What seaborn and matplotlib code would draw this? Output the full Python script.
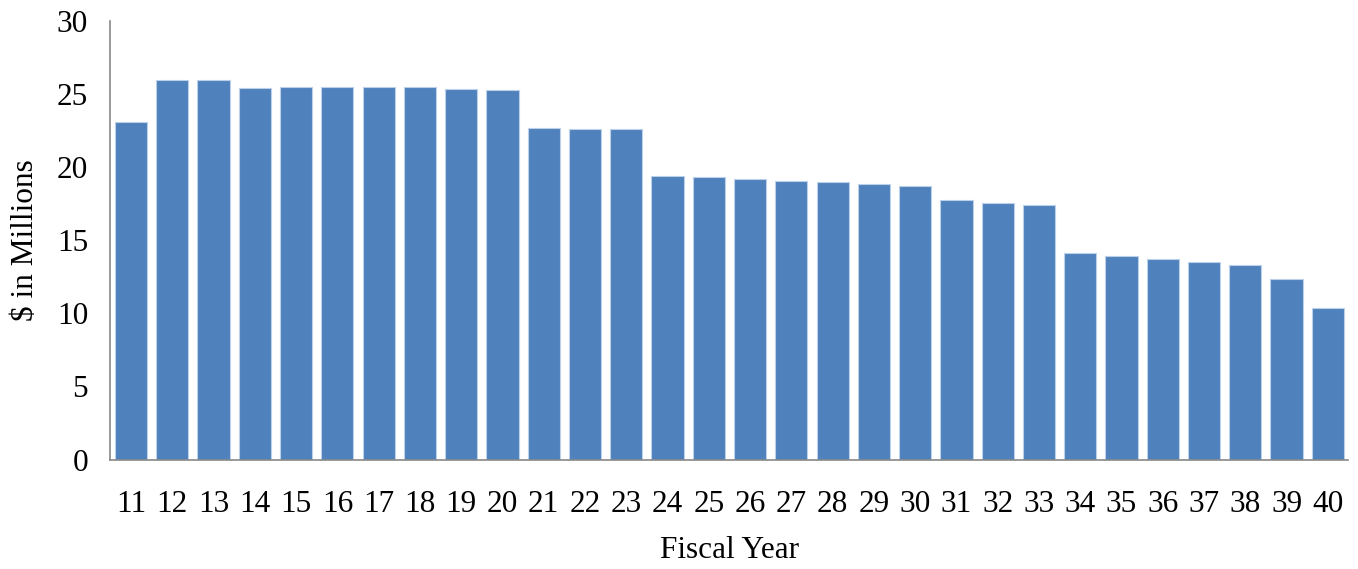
import matplotlib
matplotlib.use("Agg")
import matplotlib.pyplot as plt
import seaborn as sns
import pandas as pd

years = [str(y) for y in range(11, 41)]
values = [23.1, 25.95, 25.95, 25.45, 25.47, 25.47, 25.47, 25.47, 25.38, 25.25,
          22.68, 22.59, 22.59, 19.42, 19.35, 19.21, 19.07, 18.98, 18.82, 18.71,
          17.74, 17.57, 17.41, 14.12, 13.94, 13.73, 13.53, 13.30, 12.34, 10.35]
yticks = [0, 5, 10, 15, 20, 25, 30]

sns.set_theme(style="white")
plt.rcParams['font.family'] = ['Liberation Serif', 'DejaVu Serif']

df = pd.DataFrame({"Fiscal Year": years, "value": values})

fig = plt.figure(figsize=(13.58, 5.69), dpi=100)
ax = fig.add_axes([0.0813, 0.1924, 0.9117, 0.7706])
sns.barplot(data=df, x="Fiscal Year", y="value", color="#4F81BD", saturation=1,
            width=0.78, edgecolor="#bcd0ea", linewidth=0.8, ax=ax)

ax.set_ylim(0, 30)
ax.set_xlim(-0.5, len(years) - 0.5)
ax.set_yticks(yticks)
ax.set_yticklabels([str(t) for t in yticks])
ax.tick_params(axis='both', length=0, labelsize=22.5, colors='black')
ax.tick_params(axis='y', pad=16)
ax.tick_params(axis='x', pad=22)
for s in ['top', 'right']:
    ax.spines[s].set_visible(False)
for s in ['left', 'bottom']:
    ax.spines[s].set_color('#888888')
    ax.spines[s].set_linewidth(1.2)
ax.set_xlabel("Fiscal Year", fontsize=22.5, labelpad=12, color='black')
ax.set_ylabel(r"\$ in Millions", fontsize=22.5, labelpad=12, color='black')
ax.grid(False)

fig.savefig("out.png", dpi=100, facecolor="white")
